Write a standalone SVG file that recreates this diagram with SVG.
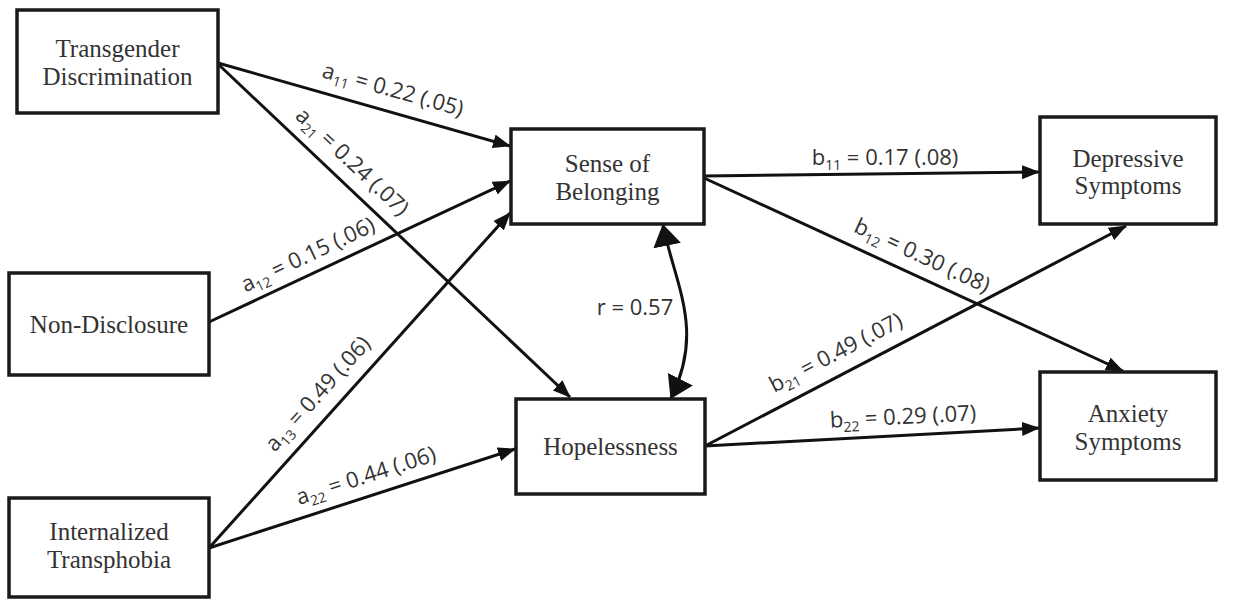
<svg xmlns="http://www.w3.org/2000/svg" width="1236" height="599" viewBox="0 0 1236 599">
<style>
.box{fill:#fff;stroke:#1a1a1a;stroke-width:3.5}
.nt{font-family:"Liberation Serif","Times New Roman",serif;font-size:25px;fill:#333;text-anchor:middle}
.ln{fill:none;stroke:#111;stroke-width:3}
.lb{font-family:"Open Sans","Liberation Sans",sans-serif;font-size:22px;fill:#333;text-anchor:middle}
.sub{font-size:14px}
</style>
<defs>
<marker id="ah" markerUnits="userSpaceOnUse" markerWidth="18" markerHeight="14" refX="17" refY="7" orient="auto"><path d="M0,0 L18,7 L0,14 z" fill="#111"/></marker>
<marker id="bh" markerUnits="userSpaceOnUse" markerWidth="22" markerHeight="28" refX="21" refY="14" orient="auto-start-reverse"><path d="M0,0 L22,14 L0,28 z" fill="#111"/></marker>
</defs>
<rect width="1236" height="599" fill="#fff"/>
<g id="connectors">
<path class="ln" d="M218,63 L510,146" marker-end="url(#ah)"/>
<path class="ln" d="M218,64 L570,397" marker-end="url(#ah)"/>
<path class="ln" d="M209,322 L510,181" marker-end="url(#ah)"/>
<path class="ln" d="M209,548 L510,213" marker-end="url(#ah)"/>
<path class="ln" d="M209,548 L515,449" marker-end="url(#ah)"/>
<path class="ln" d="M704,176 L1039,172" marker-end="url(#ah)"/>
<path class="ln" d="M704,178 L1123,371" marker-end="url(#ah)"/>
<path class="ln" d="M705,446 L1126,226" marker-end="url(#ah)"/>
<path class="ln" d="M705,446 L1039,428" marker-end="url(#ah)"/>
<path class="ln" d="M663,225 C675,285 705,330 671,398" marker-start="url(#bh)" marker-end="url(#bh)"/>
</g>
<g id="labels">
<text class="lb" transform="translate(393,90) rotate(15.7)" y="7">a<tspan class="sub" dy="5">11</tspan><tspan dy="-5"> = 0.22 (.05)</tspan></text>
<text class="lb" transform="translate(352,162) rotate(43.2)" y="7">a<tspan class="sub" dy="5">21</tspan><tspan dy="-5"> = 0.24 (.07)</tspan></text>
<text class="lb" transform="translate(308,255) rotate(-25.5)" y="7">a<tspan class="sub" dy="5">12</tspan><tspan dy="-5"> = 0.15 (.06)</tspan></text>
<text class="lb" transform="translate(318,394) rotate(-48.2)" y="7">a<tspan class="sub" dy="5">13</tspan><tspan dy="-5"> = 0.49 (.06)</tspan></text>
<text class="lb" transform="translate(366,476) rotate(-17.9)" y="7">a<tspan class="sub" dy="5">22</tspan><tspan dy="-5"> = 0.44 (.06)</tspan></text>
<text class="lb" x="885" y="165">b<tspan class="sub" dy="5">11</tspan><tspan dy="-5"> = 0.17 (.08)</tspan></text>
<text class="lb" transform="translate(922,256) rotate(24.9)" y="7">b<tspan class="sub" dy="5">12</tspan><tspan dy="-5"> = 0.30 (.08)</tspan></text>
<text class="lb" transform="translate(836,353) rotate(-27.5)" y="7">b<tspan class="sub" dy="5">21</tspan><tspan dy="-5"> = 0.49 (.07)</tspan></text>
<text class="lb" transform="translate(903,417) rotate(-2.9)" y="7">b<tspan class="sub" dy="5">22</tspan><tspan dy="-5"> = 0.29 (.07)</tspan></text>
<text class="lb" x="635" y="315">r = 0.57</text>
</g>
<g id="transgender-discrimination">
<rect class="box" x="17" y="10" width="201" height="103"/>
<text class="nt" x="117.5" y="57">Transgender</text>
<text class="nt" x="117.5" y="85">Discrimination</text>
</g>
<g id="non-disclosure">
<rect class="box" x="9" y="273" width="200" height="102"/>
<text class="nt" x="109" y="333">Non-Disclosure</text>
</g>
<g id="internalized-transphobia">
<rect class="box" x="9" y="498" width="200" height="99"/>
<text class="nt" x="109" y="540">Internalized</text>
<text class="nt" x="109" y="568">Transphobia</text>
</g>
<g id="sense-of-belonging">
<rect class="box" x="511" y="129" width="193" height="95"/>
<text class="nt" x="607.5" y="172">Sense of</text>
<text class="nt" x="607.5" y="200">Belonging</text>
</g>
<g id="hopelessness">
<rect class="box" x="516" y="399" width="189" height="95"/>
<text class="nt" x="610.5" y="455">Hopelessness</text>
</g>
<g id="depressive-symptoms">
<rect class="box" x="1040" y="117" width="176" height="107"/>
<text class="nt" x="1128" y="167">Depressive</text>
<text class="nt" x="1128" y="194">Symptoms</text>
</g>
<g id="anxiety-symptoms">
<rect class="box" x="1040" y="372" width="176" height="108"/>
<text class="nt" x="1128" y="422">Anxiety</text>
<text class="nt" x="1128" y="450">Symptoms</text>
</g>
</svg>
